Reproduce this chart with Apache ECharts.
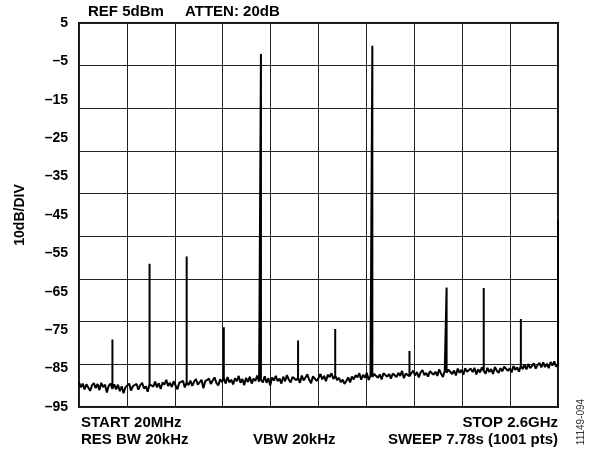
<!DOCTYPE html>
<html>

<head>
    <meta charset="utf-8">
    <script src="https://cdn.jsdelivr.net/npm/echarts@6.0.0/dist/echarts.min.js"></script>
    <title>spectrum</title>
    <style>
        * {
            margin: 0;
            padding: 0;
        }

        #view {
            width: 601px;
            height: 455px;
            background: #fff;
        }
    </style>
</head>

<body>
    <div id="view"></div>
    <script>
        // sweep settings (MHz)
        var startMHz = 20;
        var stopMHz = 2600;
        var stepMHz = 10;

        // noise floor, dBm, one value every 10MHz from 20MHz
        var noiseFloor = [
            -88.6, -89.9, -88.9, -90.4, -89.1, -88.7, -90.8, -89.4, -88.8, -90.1,
            -89.0, -90.6, -88.7, -89.8, -89.2, -91.2, -89.5, -88.9, -90.3, -89.1,
            -90.4, -89.2, -90.9, -89.6, -91.4, -89.9, -90.2, -88.9, -90.7, -89.6,
            -90.1, -89.0, -90.5, -89.3, -88.7, -90.2, -89.6, -91.0, -89.1, -88.6,
            -89.7, -88.4, -89.9, -88.8, -90.3, -88.6, -89.2, -87.9, -89.5, -88.7,
            -89.8, -88.3, -89.4, -90.4, -88.7, -89.1, -88.2, -89.9, -88.6, -89.3,
            -88.1, -89.5, -88.4, -87.7, -89.2, -88.9, -87.9, -90.1, -88.3, -88.8,
            -87.6, -89.0, -88.1, -87.3, -88.7, -89.4, -87.8, -88.5, -87.4, -88.9,
            -87.2, -88.6, -87.9, -89.1, -87.5, -88.3, -86.9, -88.7, -87.7, -89.3,
            -87.4, -88.5, -87.1, -88.9, -87.6, -88.2, -86.8, -88.4, -87.9, -88.6,
            -87.0, -88.7, -87.5, -89.4, -87.3, -88.1, -86.9, -88.3, -87.6, -88.9,
            -87.1, -88.3, -86.7, -87.9, -88.6, -87.2, -86.9, -88.0, -87.4, -88.7,
            -86.8, -88.1, -87.3, -86.5, -87.9, -88.8, -87.0, -86.6, -88.2, -87.5,
            -86.4, -87.8, -86.9, -88.3, -86.6, -87.2, -86.2, -87.7, -86.8, -88.0,
            -87.4, -88.5, -87.9, -89.0, -88.2, -87.3, -88.6, -87.1, -87.8, -86.7,
            -87.3, -86.2, -87.9, -86.6, -87.4, -86.1, -88.0, -86.8, -87.2, -86.4,
            -86.0, -87.4, -86.5, -87.8, -86.2, -85.9, -87.1, -86.4, -87.6, -86.3,
            -85.8, -87.2, -86.1, -86.9, -85.6, -87.5, -86.3, -85.9, -87.0, -86.2,
            -85.5, -86.8, -85.9, -87.3, -86.0, -85.4, -86.7, -86.1, -87.1, -85.7,
            -85.4, -86.6, -85.8, -86.9, -85.2, -86.3, -87.2, -85.6, -86.1, -85.3,
            -85.1, -86.4, -85.5, -86.8, -85.0, -86.1, -85.3, -86.6, -84.9, -85.8,
            -86.2, -85.0, -85.9, -84.8, -86.5, -85.2, -86.0, -84.7, -85.6, -86.3,
            -84.8, -85.9, -85.1, -86.4, -84.6, -85.5, -86.1, -84.9, -85.7, -84.5,
            -84.4, -85.6, -84.9, -86.0, -84.3, -85.3, -84.7, -85.8, -84.2, -85.1,
            -84.0, -85.2, -83.8, -84.9, -84.3, -83.6, -85.0, -84.1, -83.5, -84.7,
            -83.4, -84.6, -83.7, -84.9, -83.3, -84.2, -83.1, -84.5, -83.8
        ];

        // spurs (MHz / dBm)
        var spurFreq = [200, 400, 600, 800, 1000, 1200, 1400, 1600, 1800, 2000, 2200, 2400, 2600];
        var spurLevel = [-77.4, -57.7, -55.8, -74.2, -3.1, -77.7, -74.7, -0.9, -80.4, -63.9, -64.0, -72.1, -46.3];

        // y tick labels
        var yMin = -95;
        var yMax = 5;
        var yStep = 10;

        // build trace: spur = vertical line at its frequency
        var trace = [];
        for (var i = 0; i < noiseFloor.length; i++) {
            var f = startMHz + i * stepMHz;
            var k = spurFreq.indexOf(f);
            trace.push([f, noiseFloor[i]]);
            if (k >= 0) {
                trace.push([f, spurLevel[k]]);
                trace.push([f, noiseFloor[i]]);
            }
        }

        var font = 'Arial, "Liberation Sans", Helvetica, sans-serif';
        var view = echarts.init(document.getElementById('view'));

        function txt(s, x, y, align, size, weight, color, rot) {
            return {
                type: 'text',
                x: x,
                y: y,
                rotation: rot || 0,
                style: {
                    text: s,
                    x: 0,
                    y: 0,
                    font: (weight || 'bold') + ' ' + (size || 15) + 'px ' + font,
                    fill: color || '#000',
                    align: align,
                    textAlign: align,
                    verticalAlign: 'middle',
                    textVerticalAlign: 'middle'
                },
                silent: true
            };
        }

        var option = {
            animation: false,
            backgroundColor: '#fff',
            grid: {
                left: 79,
                top: 23,
                width: 479,
                height: 384,
                show: true,
                borderColor: '#111',
                borderWidth: 2
            },
            xAxis: [{
                type: 'value',
                min: startMHz,
                max: stopMHz,
                axisLine: { show: false },
                axisTick: { show: false },
                axisLabel: { show: false },
                splitLine: { show: false }
            }, {
                // 10 divisions grid
                type: 'value',
                min: 0,
                max: 10,
                interval: 1,
                position: 'top',
                axisLine: { show: false },
                axisTick: { show: false },
                axisLabel: { show: false },
                splitLine: { show: true, lineStyle: { color: '#222', width: 1 } }
            }],
            yAxis: [{
                type: 'value',
                min: yMin,
                max: yMax,
                interval: yStep,
                axisLine: { show: false },
                axisTick: { show: false },
                splitLine: { show: false },
                axisLabel: {
                    margin: 11,
                    color: '#000',
                    fontSize: 14,
                    fontWeight: 'bold',
                    fontFamily: font,
                    formatter: function (v) {
                        return v < 0 ? '\u2013' + Math.abs(v) : String(v);
                    }
                }
            }, {
                // the grid has 9 rows, not aligned with the labels
                type: 'value',
                min: 0,
                max: 9,
                interval: 1,
                position: 'right',
                axisLine: { show: false },
                axisTick: { show: false },
                axisLabel: { show: false },
                splitLine: { show: true, lineStyle: { color: '#222', width: 1 } }
            }],
            graphic: [
                txt('REF 5dBm', 88, 12, 'left'),
                txt('ATTEN: 20dB', 185, 12, 'left'),
                txt('10dB/DIV', 20, 215, 'center', 14, 'bold', '#000', Math.PI / 2),
                txt('START 20MHz', 81, 423, 'left'),
                txt('RES BW 20kHz', 81, 440, 'left'),
                txt('VBW 20kHz', 253, 440, 'left'),
                txt('STOP 2.6GHz', 558, 423, 'right'),
                txt('SWEEP 7.78s (1001 pts)', 558, 440, 'right'),
                txt('11149-094', 581, 422, 'center', 10, 'normal', '#333', Math.PI / 2)
            ],
            series: [{
                type: 'line',
                xAxisIndex: 0,
                yAxisIndex: 0,
                showSymbol: false,
                symbol: 'none',
                clip: false,
                data: trace,
                lineStyle: { color: '#000', width: 2 },
                z: 3
            }]
        };
        view.setOption(option);
    </script>
</body>

</html>
